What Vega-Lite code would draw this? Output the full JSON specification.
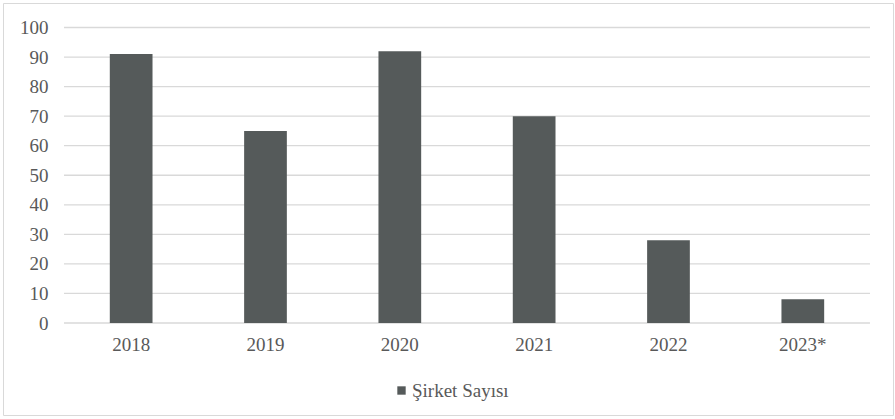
{
  "$schema": "https://vega.github.io/schema/vega-lite/v6.json",
  "autosize": "none",
  "width": 890,
  "height": 412,
  "padding": {"left": 3, "top": 3, "right": 2, "bottom": 4},
  "background": "white",
  "config": {
    "view": {"stroke": "#d9d9d9", "strokeWidth": 1},
    "font": "Liberation Serif"
  },
  "data": {
    "values": [
      {"yil": "2018", "sayi": 91, "seri": "Şirket Sayısı"},
      {"yil": "2019", "sayi": 65, "seri": "Şirket Sayısı"},
      {"yil": "2020", "sayi": 92, "seri": "Şirket Sayısı"},
      {"yil": "2021", "sayi": 70, "seri": "Şirket Sayısı"},
      {"yil": "2022", "sayi": 28, "seri": "Şirket Sayısı"},
      {"yil": "2023*", "sayi": 8, "seri": "Şirket Sayısı"}
    ]
  },
  "layer": [
    {
      "data": {"values": [{"v": 0}, {"v": 10}, {"v": 20}, {"v": 30}, {"v": 40}, {"v": 50}, {"v": 60}, {"v": 70}, {"v": 80}, {"v": 90}, {"v": 100}]},
      "mark": {"type": "rule", "color": "#d9d9d9", "strokeWidth": 1.3},
      "encoding": {
        "y": {"field": "v", "type": "quantitative"},
        "x": {"datum": "2018", "type": "nominal", "bandPosition": 0},
        "x2": {"datum": "2023*", "bandPosition": 1}
      }
    },
    {
      "mark": {"type": "bar", "width": {"band": 0.318}},
      "encoding": {
        "x": {
          "field": "yil",
          "type": "nominal",
          "sort": null,
          "scale": {"domain": ["2018", "2019", "2020", "2021", "2022", "2023*"], "paddingInner": 0, "paddingOuter": 0.3127, "align": 0.726},
          "axis": {
            "title": null,
            "orient": "bottom",
            "offset": -92,
            "domain": false,
            "ticks": false,
            "grid": false,
            "labelAngle": 0,
            "labelAlign": "center",
            "bandPosition": 0.5,
            "labelPadding": 21,
            "labelFont": "Liberation Serif",
            "labelFontSize": 19,
            "labelColor": "#595959"
          }
        },
        "y": {
          "field": "sayi",
          "type": "quantitative",
          "scale": {"domain": [-31.13, 108.29], "nice": false, "zero": false},
          "axis": {
            "title": null,
            "orient": "left",
            "offset": -45,
            "values": [0, 10, 20, 30, 40, 50, 60, 70, 80, 90, 100],
            "domain": false,
            "ticks": false,
            "grid": false,
            "labelPadding": 0,
            "labelFont": "Liberation Serif",
            "labelFontSize": 19,
            "labelColor": "#595959"
          }
        },
        "color": {
          "field": "seri",
          "type": "nominal",
          "scale": {"range": ["#555a5a"]},
          "legend": {
            "title": null,
            "orient": "none",
            "legendX": 389,
            "legendY": 378,
            "padding": 0,
            "symbolType": "square",
            "symbolSize": 70,
            "symbolStrokeWidth": 0,
            "labelOffset": 1,
            "labelFont": "Liberation Serif",
            "labelFontSize": 19,
            "labelColor": "#595959"
          }
        }
      }
    }
  ]
}
